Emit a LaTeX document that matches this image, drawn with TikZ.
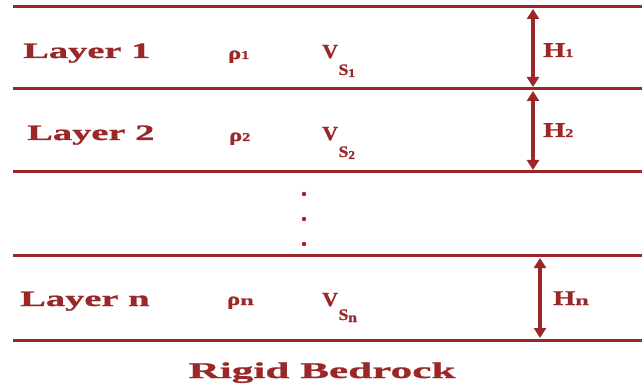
\documentclass[tikz,border=0pt]{standalone}
\usepackage{fontspec}
\usetikzlibrary{arrows.meta}
\setmainfont{Liberation Serif}
\newfontfamily\wf{Liberation Serif}[UprightFont=* Bold,FakeStretch=1.75,FakeBold=1.2]
\newfontfamily\wfb{Liberation Serif}[UprightFont=* Bold,FakeStretch=1.92,FakeBold=1.2]
\newfontfamily\mf{Liberation Serif}[UprightFont=* Bold,FakeStretch=1.35,FakeBold=1.2]
\newfontfamily\nf{Liberation Serif}[UprightFont=* Bold,FakeStretch=1.1,FakeBold=1.2]
\definecolor{lred}{RGB}{155,40,40}
\tikzset{
  layerline/.style={draw=lred,line width=3pt},
  harrow/.style={draw=lred,line width=3.2pt,{Triangle[width=12pt,length=10pt]}-{Triangle[width=12pt,length=10pt]}},
  lbl/.style={text=lred,inner sep=0pt,anchor=base west},
  dotmark/.style={fill=lred,draw=none,circle,minimum size=4.5pt,inner sep=0pt}
}
\begin{document}
\begin{tikzpicture}[x=1pt,y=-1pt]
\path[use as bounding box,fill=white] (0,0) rectangle (642,387);
% lines
\coordinate (l0a) at (13,7);   \coordinate (l0b) at (642,7);
\coordinate (l1a) at (13,89);  \coordinate (l1b) at (642,89);
\coordinate (l2a) at (13,172); \coordinate (l2b) at (642,172);
\coordinate (l3a) at (13,256); \coordinate (l3b) at (642,256);
\coordinate (l4a) at (13,340); \coordinate (l4b) at (642,340);
\draw[layerline] (l0a) -- (l0b);
\draw[layerline] (l1a) -- (l1b);
\draw[layerline] (l2a) -- (l2b);
\draw[layerline] (l3a) -- (l3b);
\draw[layerline] (l4a) -- (l4b);
% arrows
\coordinate (a1t) at (533,9);   \coordinate (a1b) at (533,87);
\coordinate (a2t) at (533,91);  \coordinate (a2b) at (533,170);
\coordinate (ant) at (540,258); \coordinate (anb) at (540,338);
\draw[harrow] (a1t) -- (a1b);
\draw[harrow] (a2t) -- (a2b);
\draw[harrow] (ant) -- (anb);
% layer labels
\node[lbl] (lay1) at (23,58) {\wf\fontsize{22}{22}\selectfont Layer 1};
\node[lbl] (lay2) at (27,140) {\wf\fontsize{22}{22}\selectfont Layer 2};
\node[lbl] (layn) at (20,306) {\wf\fontsize{22}{22}\selectfont Layer n};
% rho
\node[lbl] (rho1) at (228,59) {\mf\fontsize{18}{18}\selectfont ρ\fontsize{12}{12}\selectfont 1};
\node[lbl] (rho2) at (229,141) {\mf\fontsize{18}{18}\selectfont ρ\fontsize{12}{12}\selectfont 2};
\node[lbl] (rhon) at (227,305) {\mf\fontsize{18}{18}\selectfont ρ\wf\fontsize{14}{14}\selectfont n};
% Vs
\node[lbl] (vs1) at (322,58) {\nf\fontsize{20}{20}\selectfont V\hspace{0.5pt}\raisebox{-17pt}{\fontsize{16}{16}\selectfont S\raisebox{-2pt}{\fontsize{12}{12}\selectfont 1}}};
\node[lbl] (vs2) at (322,140) {\nf\fontsize{20}{20}\selectfont V\hspace{0.5pt}\raisebox{-17pt}{\fontsize{16}{16}\selectfont S\raisebox{-2pt}{\fontsize{12}{12}\selectfont 2}}};
\node[lbl] (vsn) at (322,306) {\nf\fontsize{20}{20}\selectfont V\hspace{0.5pt}\raisebox{-14pt}{\fontsize{16}{16}\selectfont S\raisebox{-2pt}{\fontsize{14}{14}\selectfont n}}};
% H labels
\node[lbl] (h1) at (543,57) {\mf\fontsize{21}{21}\selectfont H\fontsize{12}{12}\selectfont 1};
\node[lbl] (h2) at (543,137) {\mf\fontsize{21}{21}\selectfont H\fontsize{12}{12}\selectfont 2};
\node[lbl] (hn) at (553,305) {\mf\fontsize{21}{21}\selectfont H\wf\fontsize{14}{14}\selectfont n};
% dots
\node[dotmark] (d1) at (304,194) {};
\node[dotmark] (d2) at (304,219) {};
\node[dotmark] (d3) at (304,244) {};
% bedrock
\node[lbl,anchor=base] (bed) at (322,378) {\wfb\fontsize{22.5}{22.5}\selectfont Rigid Bedrock};
\end{tikzpicture}
\end{document}
